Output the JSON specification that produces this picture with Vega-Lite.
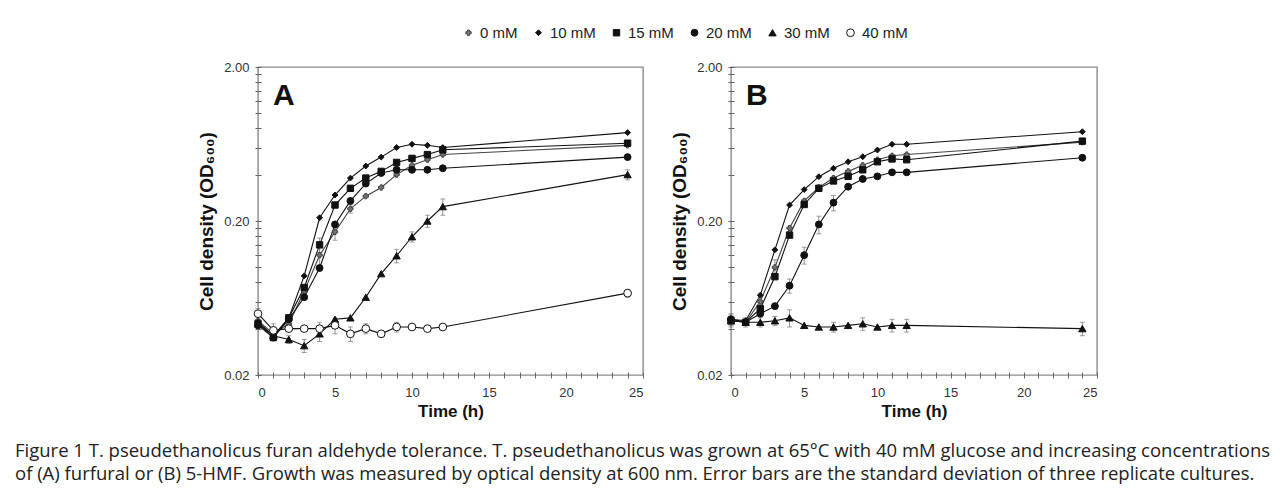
{
  "$schema": "https://vega.github.io/schema/vega-lite/v6.json",
  "background": "white",
  "padding": {"left": 14, "top": 25, "right": 5, "bottom": 5},
  "data": {"values": [
    {"panel":"A","series":"0 mM","t":0,"od":0.045,"sd":0.004},
    {"panel":"A","series":"0 mM","t":1,"od":0.037},
    {"panel":"A","series":"0 mM","t":2,"od":0.043},
    {"panel":"A","series":"0 mM","t":3,"od":0.070,"sd":0.006},
    {"panel":"A","series":"0 mM","t":4,"od":0.12,"sd":0.02},
    {"panel":"A","series":"0 mM","t":5,"od":0.17,"sd":0.02},
    {"panel":"A","series":"0 mM","t":6,"od":0.24,"sd":0.015},
    {"panel":"A","series":"0 mM","t":7,"od":0.29},
    {"panel":"A","series":"0 mM","t":8,"od":0.33},
    {"panel":"A","series":"0 mM","t":9,"od":0.40},
    {"panel":"A","series":"0 mM","t":10,"od":0.46},
    {"panel":"A","series":"0 mM","t":11,"od":0.50},
    {"panel":"A","series":"0 mM","t":12,"od":0.54},
    {"panel":"A","series":"0 mM","t":24,"od":0.62},
    {"panel":"A","series":"10 mM","t":0,"od":0.044},
    {"panel":"A","series":"10 mM","t":1,"od":0.036},
    {"panel":"A","series":"10 mM","t":2,"od":0.047},
    {"panel":"A","series":"10 mM","t":3,"od":0.088},
    {"panel":"A","series":"10 mM","t":4,"od":0.21},
    {"panel":"A","series":"10 mM","t":5,"od":0.295},
    {"panel":"A","series":"10 mM","t":6,"od":0.38},
    {"panel":"A","series":"10 mM","t":7,"od":0.455},
    {"panel":"A","series":"10 mM","t":8,"od":0.52},
    {"panel":"A","series":"10 mM","t":9,"od":0.60},
    {"panel":"A","series":"10 mM","t":10,"od":0.63},
    {"panel":"A","series":"10 mM","t":11,"od":0.62},
    {"panel":"A","series":"10 mM","t":12,"od":0.60},
    {"panel":"A","series":"10 mM","t":24,"od":0.75},
    {"panel":"A","series":"15 mM","t":0,"od":0.043},
    {"panel":"A","series":"15 mM","t":1,"od":0.035},
    {"panel":"A","series":"15 mM","t":2,"od":0.047},
    {"panel":"A","series":"15 mM","t":3,"od":0.074},
    {"panel":"A","series":"15 mM","t":4,"od":0.14,"sd":0.015},
    {"panel":"A","series":"15 mM","t":5,"od":0.254},
    {"panel":"A","series":"15 mM","t":6,"od":0.326},
    {"panel":"A","series":"15 mM","t":7,"od":0.38},
    {"panel":"A","series":"15 mM","t":8,"od":0.42},
    {"panel":"A","series":"15 mM","t":9,"od":0.48},
    {"panel":"A","series":"15 mM","t":10,"od":0.51},
    {"panel":"A","series":"15 mM","t":11,"od":0.54},
    {"panel":"A","series":"15 mM","t":12,"od":0.58},
    {"panel":"A","series":"15 mM","t":24,"od":0.64},
    {"panel":"A","series":"20 mM","t":0,"od":0.042},
    {"panel":"A","series":"20 mM","t":1,"od":0.035},
    {"panel":"A","series":"20 mM","t":2,"od":0.046},
    {"panel":"A","series":"20 mM","t":3,"od":0.064},
    {"panel":"A","series":"20 mM","t":4,"od":0.099},
    {"panel":"A","series":"20 mM","t":5,"od":0.19},
    {"panel":"A","series":"20 mM","t":6,"od":0.27},
    {"panel":"A","series":"20 mM","t":7,"od":0.35},
    {"panel":"A","series":"20 mM","t":8,"od":0.41},
    {"panel":"A","series":"20 mM","t":9,"od":0.43},
    {"panel":"A","series":"20 mM","t":10,"od":0.43},
    {"panel":"A","series":"20 mM","t":11,"od":0.43},
    {"panel":"A","series":"20 mM","t":12,"od":0.44},
    {"panel":"A","series":"20 mM","t":24,"od":0.52},
    {"panel":"A","series":"30 mM","t":0,"od":0.043},
    {"panel":"A","series":"30 mM","t":1,"od":0.036},
    {"panel":"A","series":"30 mM","t":2,"od":0.034,"sd":0.002},
    {"panel":"A","series":"30 mM","t":3,"od":0.031,"sd":0.003},
    {"panel":"A","series":"30 mM","t":4,"od":0.037,"sd":0.004},
    {"panel":"A","series":"30 mM","t":5,"od":0.046},
    {"panel":"A","series":"30 mM","t":6,"od":0.047},
    {"panel":"A","series":"30 mM","t":7,"od":0.064},
    {"panel":"A","series":"30 mM","t":8,"od":0.091},
    {"panel":"A","series":"30 mM","t":9,"od":0.119,"sd":0.012},
    {"panel":"A","series":"30 mM","t":10,"od":0.158,"sd":0.012},
    {"panel":"A","series":"30 mM","t":11,"od":0.20,"sd":0.018},
    {"panel":"A","series":"30 mM","t":12,"od":0.248,"sd":0.03},
    {"panel":"A","series":"30 mM","t":24,"od":0.40,"sd":0.03},
    {"panel":"A","series":"40 mM","t":0,"od":0.050,"sd":0.004},
    {"panel":"A","series":"40 mM","t":1,"od":0.039,"sd":0.004},
    {"panel":"A","series":"40 mM","t":2,"od":0.040},
    {"panel":"A","series":"40 mM","t":3,"od":0.040},
    {"panel":"A","series":"40 mM","t":4,"od":0.040,"sd":0.004},
    {"panel":"A","series":"40 mM","t":5,"od":0.042,"sd":0.005},
    {"panel":"A","series":"40 mM","t":6,"od":0.037,"sd":0.004},
    {"panel":"A","series":"40 mM","t":7,"od":0.040,"sd":0.003},
    {"panel":"A","series":"40 mM","t":8,"od":0.037},
    {"panel":"A","series":"40 mM","t":9,"od":0.041,"sd":0.003},
    {"panel":"A","series":"40 mM","t":10,"od":0.041},
    {"panel":"A","series":"40 mM","t":11,"od":0.040},
    {"panel":"A","series":"40 mM","t":12,"od":0.041},
    {"panel":"A","series":"40 mM","t":24,"od":0.068,"sd":0.004},
    {"panel":"B","series":"0 mM","t":0,"od":0.046,"sd":0.004},
    {"panel":"B","series":"0 mM","t":1,"od":0.044},
    {"panel":"B","series":"0 mM","t":2,"od":0.060},
    {"panel":"B","series":"0 mM","t":3,"od":0.10,"sd":0.012},
    {"panel":"B","series":"0 mM","t":4,"od":0.18},
    {"panel":"B","series":"0 mM","t":5,"od":0.27},
    {"panel":"B","series":"0 mM","t":6,"od":0.33},
    {"panel":"B","series":"0 mM","t":7,"od":0.38},
    {"panel":"B","series":"0 mM","t":8,"od":0.42},
    {"panel":"B","series":"0 mM","t":9,"od":0.46},
    {"panel":"B","series":"0 mM","t":10,"od":0.50},
    {"panel":"B","series":"0 mM","t":11,"od":0.53},
    {"panel":"B","series":"0 mM","t":12,"od":0.54},
    {"panel":"B","series":"0 mM","t":24,"od":0.65},
    {"panel":"B","series":"10 mM","t":0,"od":0.046},
    {"panel":"B","series":"10 mM","t":1,"od":0.045},
    {"panel":"B","series":"10 mM","t":2,"od":0.066},
    {"panel":"B","series":"10 mM","t":3,"od":0.13},
    {"panel":"B","series":"10 mM","t":4,"od":0.254},
    {"panel":"B","series":"10 mM","t":5,"od":0.32},
    {"panel":"B","series":"10 mM","t":6,"od":0.388},
    {"panel":"B","series":"10 mM","t":7,"od":0.44},
    {"panel":"B","series":"10 mM","t":8,"od":0.485},
    {"panel":"B","series":"10 mM","t":9,"od":0.523},
    {"panel":"B","series":"10 mM","t":10,"od":0.578},
    {"panel":"B","series":"10 mM","t":11,"od":0.63},
    {"panel":"B","series":"10 mM","t":12,"od":0.63},
    {"panel":"B","series":"10 mM","t":24,"od":0.76},
    {"panel":"B","series":"15 mM","t":0,"od":0.045},
    {"panel":"B","series":"15 mM","t":1,"od":0.044},
    {"panel":"B","series":"15 mM","t":2,"od":0.054},
    {"panel":"B","series":"15 mM","t":3,"od":0.087},
    {"panel":"B","series":"15 mM","t":4,"od":0.162},
    {"panel":"B","series":"15 mM","t":5,"od":0.256},
    {"panel":"B","series":"15 mM","t":6,"od":0.326},
    {"panel":"B","series":"15 mM","t":7,"od":0.364},
    {"panel":"B","series":"15 mM","t":8,"od":0.39},
    {"panel":"B","series":"15 mM","t":9,"od":0.43},
    {"panel":"B","series":"15 mM","t":10,"od":0.485},
    {"panel":"B","series":"15 mM","t":11,"od":0.506},
    {"panel":"B","series":"15 mM","t":12,"od":0.50},
    {"panel":"B","series":"15 mM","t":24,"od":0.66},
    {"panel":"B","series":"20 mM","t":0,"od":0.046},
    {"panel":"B","series":"20 mM","t":1,"od":0.044},
    {"panel":"B","series":"20 mM","t":2,"od":0.050},
    {"panel":"B","series":"20 mM","t":3,"od":0.056},
    {"panel":"B","series":"20 mM","t":4,"od":0.076,"sd":0.008},
    {"panel":"B","series":"20 mM","t":5,"od":0.12,"sd":0.015},
    {"panel":"B","series":"20 mM","t":6,"od":0.19,"sd":0.025},
    {"panel":"B","series":"20 mM","t":7,"od":0.263,"sd":0.03},
    {"panel":"B","series":"20 mM","t":8,"od":0.334},
    {"panel":"B","series":"20 mM","t":9,"od":0.375},
    {"panel":"B","series":"20 mM","t":10,"od":0.39},
    {"panel":"B","series":"20 mM","t":11,"od":0.414},
    {"panel":"B","series":"20 mM","t":12,"od":0.414},
    {"panel":"B","series":"20 mM","t":24,"od":0.515},
    {"panel":"B","series":"30 mM","t":0,"od":0.045,"sd":0.004},
    {"panel":"B","series":"30 mM","t":1,"od":0.044,"sd":0.003},
    {"panel":"B","series":"30 mM","t":2,"od":0.044,"sd":0.003},
    {"panel":"B","series":"30 mM","t":3,"od":0.045,"sd":0.003},
    {"panel":"B","series":"30 mM","t":4,"od":0.047,"sd":0.006},
    {"panel":"B","series":"30 mM","t":5,"od":0.042},
    {"panel":"B","series":"30 mM","t":6,"od":0.041},
    {"panel":"B","series":"30 mM","t":7,"od":0.041,"sd":0.003},
    {"panel":"B","series":"30 mM","t":8,"od":0.042},
    {"panel":"B","series":"30 mM","t":9,"od":0.043,"sd":0.004},
    {"panel":"B","series":"30 mM","t":10,"od":0.041},
    {"panel":"B","series":"30 mM","t":11,"od":0.042,"sd":0.004},
    {"panel":"B","series":"30 mM","t":12,"od":0.042,"sd":0.004},
    {"panel":"B","series":"30 mM","t":24,"od":0.040,"sd":0.004}
  ]},
  "title": {
    "text": [
      "Figure 1 T. pseudethanolicus furan aldehyde tolerance. T. pseudethanolicus was grown at 65°C with 40 mM glucose and increasing concentrations",
      "of (A) furfural or (B) 5-HMF. Growth was measured by optical density at 600 nm. Error bars are the standard deviation of three replicate cultures."
    ],
    "orient": "bottom",
    "anchor": "start",
    "frame": "bounds",
    "dx": -182,
    "offset": 22,
    "font": "Open Sans",
    "fontSize": 18.5,
    "fontWeight": "normal",
    "lineHeight": 23,
    "color": "#222"
  },
  "spacing": 24,
  "resolve": {"scale": {"shape": "shared", "fill": "shared", "stroke": "shared", "size": "shared"}, "legend": {"shape": "shared", "fill": "shared", "stroke": "shared", "size": "shared"}},
  "hconcat": [
    {
      "width": 385,
      "height": 308,
      "title": {"text": "A", "anchor": "start", "frame": "group", "fontSize": 30, "fontWeight": "bold", "font": "Liberation Sans", "dx": 15, "dy": 54, "color": "#111"},
      "transform": [{"filter": "datum.panel === 'A'"}],
      "encoding": {
        "x": {"field": "t", "type": "quantitative", "scale": {"domain": [0, 25], "nice": false},
          "axis": {"title": "Time (h)", "values": [0,1,2,3,4,5,6,7,8,9,10,11,12,13,14,15,16,17,18,19,20,21,22,23,24,25],
            "labelExpr": "datum.value % 5 === 0 ? datum.value : ''"}},
        "y": {"field": "od", "type": "quantitative", "scale": {"type": "log", "domain": [0.02, 2], "nice": false},
          "axis": {"title": "Cell density (OD₆₀₀)", "values": [0.02,0.04,0.06,0.08,0.1,0.12,0.14,0.16,0.18,0.2,0.4,0.6,0.8,1,1.2,1.4,1.6,1.8,2],
            "labelExpr": "datum.value === 0.02 || datum.value === 0.2 || datum.value === 2 ? format(datum.value, '.2f') : ''"}}
      },
      "layer": [
        {"transform": [{"filter": "datum.sd > 0"}],
         "mark": {"type": "errorbar", "ticks": {"size": 5, "color": "#777", "strokeWidth": 0.8}, "rule": {"color": "#777", "strokeWidth": 0.8}},
         "encoding": {"yError": {"field": "sd"}}},
        {"mark": {"type": "line", "strokeWidth": 1.1},
         "encoding": {"detail": {"field": "series"},
           "stroke": {"field": "series", "type": "nominal", "scale": {"domain": ["0 mM","10 mM","15 mM","20 mM","30 mM","40 mM"], "range": ["#444","#111","#111","#111","#111","#111"]}}}},
        {"mark": {"type": "point", "filled": false, "strokeWidth": 1, "opacity": 1},
         "encoding": {
           "shape": {"field": "series", "type": "nominal", "scale": {"domain": ["0 mM","10 mM","15 mM","20 mM","30 mM","40 mM"], "range": ["cross","diamond","square","circle","triangle-up","circle"]},
             "legend": {"title": null, "orient": "none", "direction": "horizontal", "columns": 6, "legendX": 203, "legendY": -42,
               "symbolSize": 350, "labelFontSize": 15, "labelFont": "Liberation Sans", "labelColor": "#222", "labelOffset": 4, "columnPadding": 13,
               "symbolStrokeWidth": 1}},
           "fill": {"field": "series", "type": "nominal", "scale": {"domain": ["0 mM","10 mM","15 mM","20 mM","30 mM","40 mM"], "range": ["#777","#111","#111","#111","#111","white"]}},
           "stroke": {"field": "series", "type": "nominal"},
           "size": {"field": "series", "type": "nominal", "scale": {"domain": ["0 mM","10 mM","15 mM","20 mM","30 mM","40 mM"], "range": [28, 60, 58, 62, 52, 46]}}
         }}
      ]
    },
    {
      "width": 366,
      "height": 308,
      "title": {"text": "B", "anchor": "start", "frame": "group", "fontSize": 30, "fontWeight": "bold", "font": "Liberation Sans", "dx": 15, "dy": 54, "color": "#111"},
      "transform": [{"filter": "datum.panel === 'B'"}],
      "encoding": {
        "x": {"field": "t", "type": "quantitative", "scale": {"domain": [0, 25], "nice": false},
          "axis": {"title": "Time (h)", "values": [0,1,2,3,4,5,6,7,8,9,10,11,12,13,14,15,16,17,18,19,20,21,22,23,24,25],
            "labelExpr": "datum.value % 5 === 0 ? datum.value : ''"}},
        "y": {"field": "od", "type": "quantitative", "scale": {"type": "log", "domain": [0.02, 2], "nice": false},
          "axis": {"title": "Cell density (OD₆₀₀)", "values": [0.02,0.04,0.06,0.08,0.1,0.12,0.14,0.16,0.18,0.2,0.4,0.6,0.8,1,1.2,1.4,1.6,1.8,2],
            "labelExpr": "datum.value === 0.02 || datum.value === 0.2 || datum.value === 2 ? format(datum.value, '.2f') : ''"}}
      },
      "layer": [
        {"transform": [{"filter": "datum.sd > 0"}],
         "mark": {"type": "errorbar", "ticks": {"size": 5, "color": "#777", "strokeWidth": 0.8}, "rule": {"color": "#777", "strokeWidth": 0.8}},
         "encoding": {"yError": {"field": "sd"}}},
        {"mark": {"type": "line", "strokeWidth": 1.1},
         "encoding": {"detail": {"field": "series"},
           "stroke": {"field": "series", "type": "nominal"}}},
        {"mark": {"type": "point", "filled": false, "strokeWidth": 1, "opacity": 1},
         "encoding": {
           "shape": {"field": "series", "type": "nominal"},
           "fill": {"field": "series", "type": "nominal"},
           "stroke": {"field": "series", "type": "nominal"},
           "size": {"field": "series", "type": "nominal"}
         }}
      ]
    }
  ],
  "config": {
    "font": "Liberation Sans",
    "view": {"stroke": "#8a8a8a", "strokeWidth": 1.4},
    "axis": {
      "grid": false, "domain": false, "tickSize": 6, "offset": -3, "tickColor": "#666", "tickWidth": 1,
      "labelFont": "Liberation Sans", "labelFontSize": 13, "labelColor": "#333",
      "titleFont": "Liberation Sans", "titleFontWeight": "bold", "titleColor": "#111"
    },
    "axisX": {"labelPadding": 8, "titlePadding": 4, "titleFontSize": 17},
    "axisY": {"labelPadding": 6, "titlePadding": 7, "titleFontSize": 19}
  }
}
